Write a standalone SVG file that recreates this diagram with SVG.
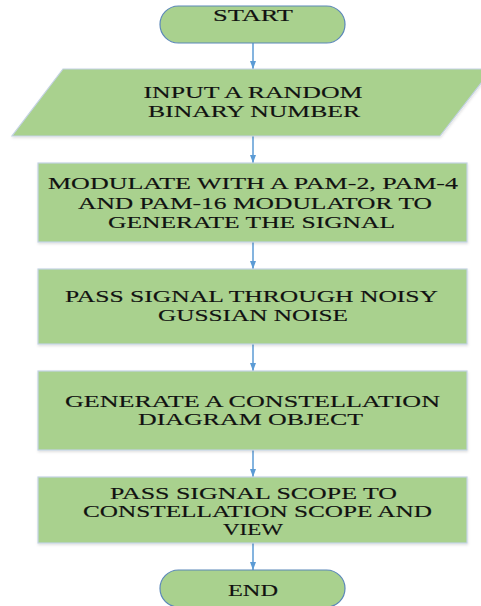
<svg xmlns="http://www.w3.org/2000/svg" width="481" height="606" viewBox="0 0 481 606">
<style>
.box{fill:#a9d18e;stroke:#c3d2e3;stroke-width:1.2}
.term{fill:#a9d18e;stroke:#5b87b8;stroke-width:1.2}
.t{font-family:"Liberation Serif","Times New Roman",serif;font-size:16.5px;fill:#111;text-anchor:middle;stroke:#111;stroke-width:0.15}
.c{stroke:#5b9bd5;stroke-width:1.5;fill:none}
</style>
<defs>
<marker id="ah" viewBox="0 0 8 6" refX="8" refY="3" markerWidth="8" markerHeight="6" markerUnits="userSpaceOnUse" orient="auto">
<path d="M0,0 L8,3 L0,6 Z" fill="#5b9bd5"/>
</marker>
<filter id="sh" x="-5%" y="-5%" width="110%" height="115%">
<feDropShadow dx="0.5" dy="1.5" stdDeviation="1" flood-color="#000" flood-opacity="0.12"/>
</filter>
</defs>
<g id="connectors">
<line class="c" x1="253" y1="43" x2="253" y2="69" marker-end="url(#ah)"/>
<line class="c" x1="253" y1="136" x2="253" y2="163" marker-end="url(#ah)"/>
<line class="c" x1="253" y1="242" x2="253" y2="269" marker-end="url(#ah)"/>
<line class="c" x1="253" y1="344" x2="253" y2="371" marker-end="url(#ah)"/>
<line class="c" x1="253" y1="450" x2="253" y2="477" marker-end="url(#ah)"/>
<line class="c" x1="253" y1="543" x2="253" y2="570" marker-end="url(#ah)"/>
</g>
<g id="start">
<rect class="term" x="160" y="6" width="185" height="37" rx="18.5" ry="18.5"/>
<text class="t" x="253" y="20.5" textLength="80" lengthAdjust="spacingAndGlyphs">START</text>
</g>
<g id="input">
<polygon class="box" points="63,69 492,69 440,136 12,136" filter="url(#sh)"/>
<text class="t" x="253" y="98" textLength="219" lengthAdjust="spacingAndGlyphs">INPUT A RANDOM</text>
<text class="t" x="254" y="117" textLength="212" lengthAdjust="spacingAndGlyphs">BINARY NUMBER</text>
</g>
<g id="modulate">
<rect class="box" x="38" y="163" width="429" height="79" filter="url(#sh)"/>
<text class="t" x="253" y="189" textLength="410" lengthAdjust="spacingAndGlyphs">MODULATE WITH A PAM-2, PAM-4</text>
<text class="t" x="255" y="209" textLength="354" lengthAdjust="spacingAndGlyphs">AND PAM-16 MODULATOR TO</text>
<text class="t" x="251.5" y="228" textLength="287" lengthAdjust="spacingAndGlyphs">GENERATE THE SIGNAL</text>
</g>
<g id="noise">
<rect class="box" x="38" y="269" width="429" height="75" filter="url(#sh)"/>
<text class="t" x="251.5" y="302" textLength="373" lengthAdjust="spacingAndGlyphs">PASS SIGNAL THROUGH NOISY</text>
<text class="t" x="253" y="321" textLength="190" lengthAdjust="spacingAndGlyphs">GUSSIAN NOISE</text>
</g>
<g id="constellation">
<rect class="box" x="38" y="371" width="429" height="79" filter="url(#sh)"/>
<text class="t" x="252.5" y="407" textLength="375" lengthAdjust="spacingAndGlyphs">GENERATE A CONSTELLATION</text>
<text class="t" x="250.5" y="425" textLength="225" lengthAdjust="spacingAndGlyphs">DIAGRAM OBJECT</text>
</g>
<g id="scope">
<rect class="box" x="38" y="477" width="429" height="66" filter="url(#sh)"/>
<text class="t" x="253.5" y="499" textLength="287" lengthAdjust="spacingAndGlyphs">PASS SIGNAL SCOPE TO</text>
<text class="t" x="257.5" y="517" textLength="349" lengthAdjust="spacingAndGlyphs">CONSTELLATION SCOPE AND</text>
<text class="t" x="253" y="535" textLength="60" lengthAdjust="spacingAndGlyphs">VIEW</text>
</g>
<g id="end">
<rect class="term" x="160" y="570" width="185" height="37" rx="18.5" ry="18.5"/>
<text class="t" x="253" y="596" textLength="50" lengthAdjust="spacingAndGlyphs">END</text>
</g>
</svg>
